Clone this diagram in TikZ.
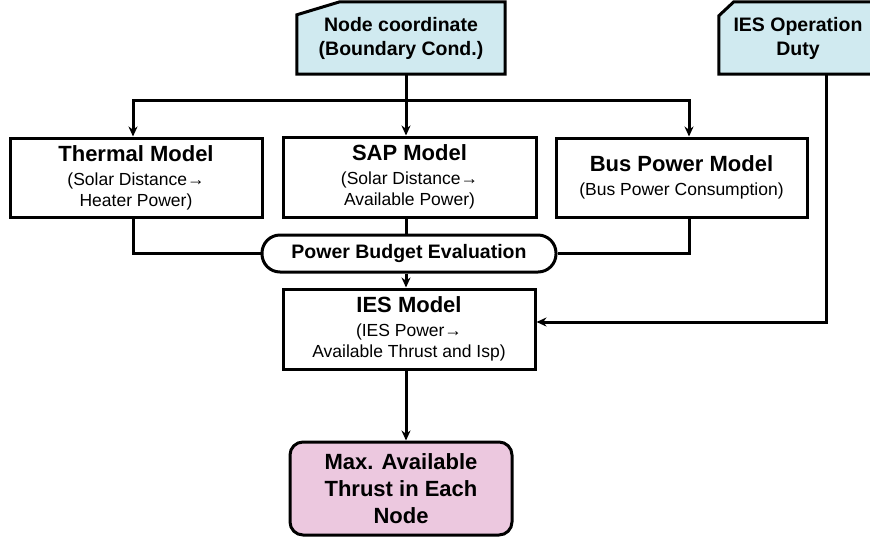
\documentclass[tikz,border=0pt]{standalone}
\usepackage{fontspec}
\setmainfont{Liberation Sans}
\usetikzlibrary{arrows.meta,backgrounds}
\definecolor{inblue}{RGB}{208,234,240}
\definecolor{outpink}{RGB}{236,200,223}
\newcommand{\ttl}[1]{{\fontsize{22}{26}\selectfont\bfseries #1}}
\newcommand{\sub}{\fontsize{17.5}{21}\selectfont}
\tikzset{
  ln/.style={line width=3pt},
  model/.style={draw, ln, fill=white, align=center, inner sep=2pt, font=\sub},
  inbox/.style={align=center, inner sep=2pt, font=\fontsize{19.5}{24}\selectfont\bfseries},
  arr/.style={ln, -{Stealth[length=10pt,width=9pt]}}
}
\begin{document}
\begin{tikzpicture}[x=1pt,y=-1pt]
\useasboundingbox (0,0) rectangle (870,539);
\clip (0,0) rectangle (870,539);
%% inputs
\node[inbox, minimum width=208pt, minimum height=72pt] (nc) at (401,38) {Node coordinate\\(Boundary Cond.)};
\node[inbox, minimum width=158pt, minimum height=72pt] (duty) at (798,38) {IES Operation\\Duty};
\begin{scope}[on background layer]
\draw[ln, fill=inblue] (nc.south west) -- ([yshift=-13pt]nc.north west) -- ([xshift=43pt]nc.north west) -- (nc.north east) -- (nc.south east) -- cycle;
\draw[ln, fill=inblue] (duty.south west) -- ([yshift=-14pt]duty.north west) -- ([xshift=15pt]duty.north west) -- (duty.north east) -- (duty.south east) -- cycle;
\end{scope}
%% models
\node[model, minimum width=252pt, minimum height=79pt] (thermal) at (136,177.5) {\ttl{Thermal Model}\\[3pt](Solar Distance→\\Heater Power)};
\node[model, minimum width=253pt, minimum height=80pt] (sap) at (409.5,177) {\ttl{SAP Model}\\[3pt](Solar Distance→\\Available Power)};
\node[model, minimum width=251pt, minimum height=79pt] (bus) at (681.5,177.5) {\ttl{Bus Power Model}\\[3pt](Bus Power Consumption)};
\node[model, minimum width=294pt, minimum height=37pt, rounded corners=18pt, font=\fontsize{19.5}{23}\selectfont\bfseries] (pill) at (409,253.5) {Power Budget Evaluation};
\node[model, minimum width=252pt, minimum height=80pt] (ies) at (409,329) {\ttl{IES Model}\\[3pt](IES Power→\\Available Thrust and Isp)};
\node[model, fill=outpink, rounded corners=13pt, minimum width=222pt, minimum height=93pt, font=\fontsize{22}{27}\selectfont\bfseries] (max) at (401,488.5) {Max. Available\\Thrust in Each\\Node};
%% connectors
\coordinate (split) at (406,100);
\draw[ln] (nc.south -| split) -- (split);
\draw[arr] (split) -- (split |- sap.north);
\draw[arr] (split) -| ([xshift=-3pt]thermal.north);
\draw[arr] (split) -| ([xshift=7.5pt]bus.north);
\draw[ln] ([xshift=-3pt]thermal.south) |- (pill.west);
\draw[ln] ([xshift=7.5pt]bus.south) |- (pill.east);
\draw[ln] (sap.south -| split) -- (pill.north -| split);
\draw[arr] (pill.south -| split) -- (ies.north -| split);
\draw[arr] (ies.south -| split) -- (max.north -| split);
\draw[arr] ([xshift=28pt]duty.south) |- ([yshift=7pt]ies.east); %%duty into IES
\end{tikzpicture}
\end{document}
